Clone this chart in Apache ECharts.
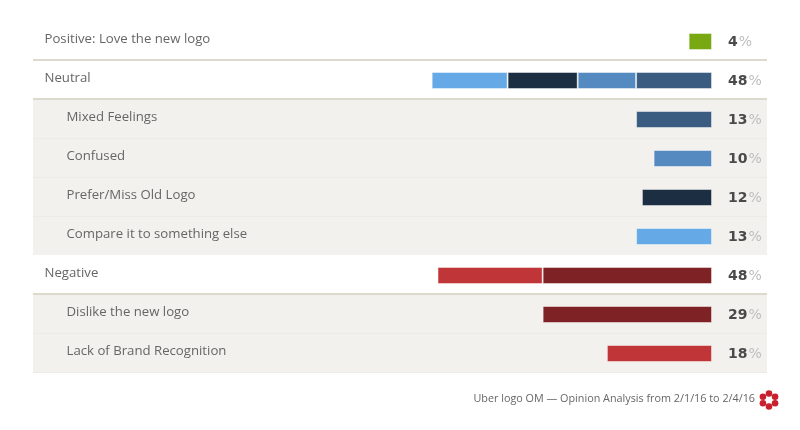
<!DOCTYPE html>
<html>
<head>
<meta charset="utf-8">
<script src="https://cdn.jsdelivr.net/npm/echarts@6/dist/echarts.min.js"></script>
<style>
html, body { margin: 0; padding: 0; background: #fff; }
#main { width: 800px; height: 430px; }
</style>
</head>
<body>
<div id="main"></div>
<script>
// rows, top to bottom
var rowNames = ["Positive: Love the new logo", "Neutral", "Mixed Feelings", "Confused", "Prefer/Miss Old Logo",
  "Compare it to something else", "Negative", "Dislike the new logo", "Lack of Brand Recognition"];
var isSubRow = [false, false, true, true, true, true, false, true, true];
var rowTotals = [4, 48, 13, 10, 12, 13, 48, 29, 18];

// segments, stacked from the right edge
var positiveLove = [4, null, null, null, null, null, null, null, null];
var mixedFeelings = [null, 13, 13, null, null, null, null, null, null];
var confused = [null, 10, null, 10, null, null, null, null, null];
var preferOld = [null, 12, null, null, 12, null, null, null, null];
var compareElse = [null, 13, null, null, null, 13, null, null, null];
var dislikeNew = [null, null, null, null, null, null, 29, 29, null];
var brandRecognition = [null, null, null, null, null, null, 18, null, 18];

var rowFills = ["#fff", "#fff", "#f2f1ee", "#f2f1ee", "#f2f1ee", "#f2f1ee", "#fff", "#f2f1ee", "#f2f1ee"];
var clear = "rgba(0,0,0,0)";
var faintLines = [clear, clear, clear, "#ecebe7", "#ecebe7", "#ecebe7", clear, clear, "#ecebe7", "#ecebe7"];
var strongLines = [clear, "#dcd9cd", "#dcd9cd", clear, clear, clear, clear, "#dcd9cd", clear, clear];

var myChart = echarts.init(document.getElementById("main"));

function segment(name, color, data) {
  return {
    name: name,
    type: "bar",
    stack: "share",
    xAxisIndex: 1,
    yAxisIndex: 2,
    barWidth: 17,
    itemStyle: { color: color, borderColor: "rgba(255,255,255,0.45)", borderWidth: 1 },
    data: data,
  };
}

// red flower next to the footer
var flower = [];
for (var i = 0; i < 6; i++) {
  var a = (Math.PI * 2 * i) / 6 - Math.PI / 2;
  flower.push({
    type: "circle",
    x: 769 + 7 * Math.cos(a),
    y: 400 + 6.5 * Math.sin(a),
    shape: { r: 3.3 },
    style: { fill: "#c8202f" },
  });
}

var option = {
  animation: false,
  backgroundColor: "#fff",
  textStyle: { fontFamily: "Open Sans" },
  title: {
    text: "Uber logo OM — Opinion Analysis from 2/1/16 to 2/4/16",
    right: 40,
    top: 388,
    textStyle: { fontFamily: "Open Sans", fontSize: 10.8, fontWeight: "normal", color: "#666" },
  },
  graphic: flower,
  grid: [
    { left: 33, width: 734, top: 21, height: 351 },
    { left: 128, width: 584, top: 22, height: 351 },
  ],
  xAxis: [
    { type: "value", gridIndex: 0, min: 0, max: 100, show: false },
    { type: "value", gridIndex: 1, min: 0, max: 100, inverse: true, show: false },
  ],
  yAxis: [
    {
      type: "category",
      gridIndex: 0,
      inverse: true,
      data: rowNames,
      axisLine: { show: false },
      axisTick: { show: false },
      splitArea: { show: true, areaStyle: { color: rowFills } },
      splitLine: { show: true, lineStyle: { color: faintLines, width: 1 } },
      axisLabel: {
        inside: true,
        margin: 11,
        interval: 0,
        formatter: function (value, index) {
          return (isSubRow[index] ? "{sub|" : "{top|") + value + "}";
        },
        rich: {
          top: { fontFamily: "Open Sans", fontSize: 13.2, color: "#666", padding: [0, 0, 3, 0.5] },
          sub: { fontFamily: "Open Sans", fontSize: 13.2, color: "#666", padding: [0, 0, 3, 22.5] },
        },
      },
      z: 1,
    },
    {
      type: "category",
      gridIndex: 0,
      inverse: true,
      position: "right",
      offset: -39,
      data: rowTotals,
      axisLine: { show: false },
      axisTick: { show: false },
      splitLine: { show: true, lineStyle: { color: strongLines, width: 2 } },
      axisLabel: {
        margin: 0,
        interval: 0,
        align: "left",
        formatter: function (value) {
          return "{num|" + value + "}{pct|%}";
        },
        rich: {
          num: { fontFamily: "DejaVu Sans", fontSize: 14, fontWeight: "bold", color: "#4a4a4a", padding: [4, 1, 0, 0] },
          pct: { fontFamily: "DejaVu Sans", fontSize: 14, color: "#bdbdbd", padding: [4, 0, 0, 0] },
        },
      },
      z: 1,
    },
    {
      type: "category",
      gridIndex: 1,
      inverse: true,
      data: rowNames,
      show: false,
    },
  ],
  series: [
    segment("Positive: Love the new logo", "#78a912", positiveLove),
    segment("Mixed Feelings", "#3a5c80", mixedFeelings),
    segment("Confused", "#548ac0", confused),
    segment("Prefer/Miss Old Logo", "#1c2f42", preferOld),
    segment("Compare it to something else", "#65a9e6", compareElse),
    segment("Dislike the new logo", "#7e2225", dislikeNew),
    segment("Lack of Brand Recognition", "#c03538", brandRecognition),
  ],
};

option && myChart.setOption(option);
</script>
</body>
</html>
